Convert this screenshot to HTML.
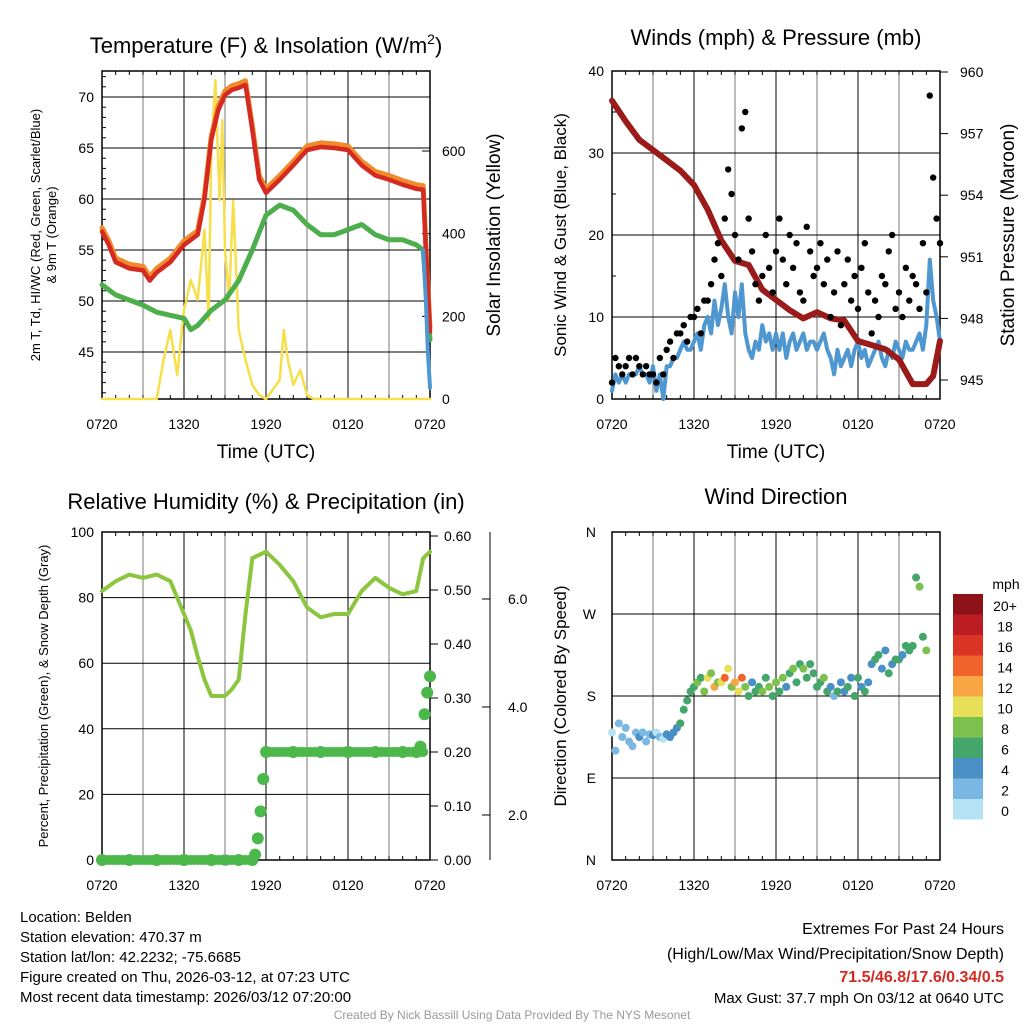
<!DOCTYPE html>
<html><head><meta charset="utf-8"><style>
body{margin:0;background:#fff;}
svg text{font-family:"Liberation Sans",sans-serif;fill:#000;}
</style></head><body>
<svg id="c" width="1024" height="1024" viewBox="0 0 1024 1024" xmlns="http://www.w3.org/2000/svg"></svg>
<script>
const xTickLabels=["0720","1320","1920","0120","0720"];
const tempT=[0,0.5,1,1.5,2,3,3.5,4,5,6,7,7.5,8,8.5,9,9.5,10,10.5,11,11.5,12,13,14,15,16,17,18,19,20,21,22,23,23.5,23.7,24];
const tempV=[56.8,55.5,53.8,53.5,53.2,53,52,52.8,53.8,55.5,56.5,60,65.8,68.7,70.2,70.7,70.9,71.2,66.8,61.9,60.6,61.9,63.3,64.8,65.1,65,64.8,63.3,62.3,61.9,61.4,61,60.9,55,47];
const dewT=[0,1,2,3,4,5,6,6.5,7,8,9,10,11,12,13,14,15,16,17,18,19,20,21,22,23,23.5,24];
const dewV=[51.6,50.6,50.1,49.6,48.9,48.6,48.3,47.2,47.6,49.1,50.1,52,55,58.4,59.4,58.9,57.5,56.5,56.5,57,57.5,56.5,56,56,55.5,55,46.2];
const wcT=[23.5,23.7,23.85,24];const wcV=[55,50,45,41.5];
const solT=[0,4,4.5,5,5.5,6,6.5,7,7.5,7.8,8,8.3,8.6,8.8,9,9.3,9.6,10,10.5,11,11.5,12,13,13.3,13.6,14,14.5,15,15.5,24];
const solV=[0,0,94,167,58,215,288,240,409,191,602,771,481,675,360,240,480,167,94,34,10,0,46,167,94,34,70,10,0,0];
const presT=[0,1,2,3,4,5,6,7,8,9,10,11,12,13,14,15,16,17,18,19,20,21,22,23,23.5,24];
const presV=[958.6,957.6,956.7,956.2,955.7,955.2,954.5,953.3,951.8,950.8,950.6,949.4,948.9,948.4,948,948.3,948,947.9,946.9,946.7,946.5,946,944.8,944.8,945.2,946.9];
const windSpd=[1,3,2,3,2,3,3,3,4,3,3,2,4,1,3,0,4,4,5,5,6,7,6,6,7,8,6,9,10,8,12,9,11,14,10,8,13,10,14,8,6,5,7,6,9,7,8,6,8,6,8,5,7,8,6,7,8,6,7,7,6,7,8,6,5,3,6,4,5,6,4,6,7,5,6,4,5,6,7,5,4,6,5,7,6,5,7,6,6,7,8,6,9,17,12,10,7];
const gustSpd=[2,5,4,3,4,5,3,5,4,3,4,3,3,2,5,3,6,7,5,8,8,9,7,10,10,11,8,12,12,14,17,19,15,22,28,25,20,17,33,35,22,18,14,12,15,20,16,13,18,22,17,14,20,16,19,13,12,21,18,15,16,19,14,17,10,13,18,9,14,17,12,15,11,16,19,13,8,12,10,15,14,18,20,11,13,10,16,12,15,14,11,19,13,37,27,22,19];
const windDir=[140,120,150,135,145,130,125,140,135,140,130,138,137,140,135,133,138,135,140,145,150,165,175,185,190,195,200,185,200,205,190,195,195,200,210,190,195,185,200,190,180,195,185,190,185,200,190,180,195,185,200,190,205,210,195,215,210,200,215,205,190,195,200,185,190,180,185,195,185,190,200,180,200,190,185,195,215,220,225,210,230,205,215,220,220,225,235,230,235,310,300,245,230];
const rhT=[0,1,2,3,4,5,6,6.5,7,7.5,8,9,9.5,10,10.5,11,12,13,14,15,16,17,18,19,20,21,22,23,23.5,24];
const rhV=[82,85,87,86,87,85,75,70,62,55,50,50,52,55,75,92,94,90,85,77,74,75,75,82,86,83,81,82,92,94];
const pcpT=[0,2,4,6,8,10,11,11.2,11.4,11.6,11.8,12,14,16,18,20,22,23,23.3,23.6,23.8,24];
const pcpV=[0,0,0,0,0,0,0,0.01,0.04,0.09,0.15,0.2,0.2,0.2,0.2,0.2,0.2,0.2,0.21,0.27,0.31,0.34];
const cbLabels=["20+","18","16","14","12","10","8","6","4","2","0"];
const cbColors=["#8e1318","#bb1d23","#dc3327","#f0632a","#f8a544","#e7df58","#7cc14e","#45a66c","#4a8fc6","#7ab8e3","#b6e2f6"];

const S=document.getElementById('c');const NS="http://www.w3.org/2000/svg";
function E(t,a,p){const e=document.createElementNS(NS,t);for(const k in a)e.setAttribute(k,a[k]);(p||S).appendChild(e);return e;}
function T(x,y,s,txt,anchor,size,extra){const e=E('text',Object.assign({x:x,y:y,'font-size':size||14,'text-anchor':anchor||'middle'},extra||{}));e.textContent=txt;


return e;}
const W=328;
function sx(x0,h){return x0+h*W/24;}
function lin(v,v0,v1,y0,y1){return y0+(v-v0)*(y1-y0)/(v1-v0);}
function frame(x0,y0,name,hgrid){
 const g=E('g',{});
 
 
 for(let i=1;i<8;i++){E('line',{x1:x0+i*41,x2:x0+i*41,y1:y0,y2:y0+W,stroke:i%2?'#777':'#000','stroke-width':1},g);}
 hgrid.forEach(y=>E('line',{x1:x0,x2:x0+W,y1:y,y2:y,stroke:'#000','stroke-width':1},g));
 E('rect',{x:x0,y:y0,width:W,height:W,fill:'none',stroke:'#000','stroke-width':1.5},g);
 for(let i=0;i<=24;i++){const x=x0+i*W/24;const L=i%6==0?8:4;E('line',{x1:x,x2:x,y1:y0+W,y2:y0+W-L,stroke:'#000'},g);E('line',{x1:x,x2:x,y1:y0,y2:y0+L,stroke:'#000'},g);}
 xTickLabels.forEach((l,i)=>T(x0+i*82,y0+W+30,'x-tick-label',l,'middle',14));
 return g;}
function path(ts,vs,fx,fy,col,w,name){let d='';ts.forEach((t,i)=>{d+=(i?'L':'M')+fx(t).toFixed(1)+','+fy(vs[i]).toFixed(1);});
 const p=E('path',{d:d,fill:'none',stroke:col,'stroke-width':w,'stroke-linejoin':'round','stroke-linecap':'round'});
 
 return p;}

// ---- Panel 1 temperature
{const x0=102,y0=71;const fy=v=>lin(v,45,70,352,97),fs=v=>lin(v,0,600,399,151),fx=h=>sx(x0,h);
 frame(x0,y0,'temperature-panel',[45,50,55,60,65,70].map(fy));
 [45,50,55,60,65,70].forEach(v=>{T(x0-8,fy(v)+5,'temp-tick-label',v,'end',14);});
 for(let v=41;v<=72;v++){E('line',{x1:x0,x2:x0+(v%5?4:8),y1:fy(v),y2:fy(v),stroke:'#000'});}
 [0,200,400,600].forEach(v=>{T(x0+W+12,fs(v)+5,'solar-tick-label',v,'start',14);E('line',{x1:x0+W,x2:x0+W-8,y1:fs(v),y2:fs(v),stroke:'#000'});});
 path(solT,solV,fx,fs,'#f7df4a',2.5,'solar-line');
 path(dewT,dewV,fx,fy,'#4cae4c',5,'dewpoint-line');
 path(tempT,tempV.map(v=>v+0.4),fx,fy,'#f08a2a',5,'temp-9m-line');
 path(tempT,tempV,fx,fy,'#d42a22',4.5,'temp-2m-line');
 path(wcT,wcV,fx,fy,'#4f97d1',4,'windchill-line');
 T(266,53,'temperature-title','Temperature (F) & Insolation (W/m','middle',22).innerHTML='Temperature (F) &amp; Insolation (W/m<tspan dy="-9" font-size="14">2</tspan><tspan dy="9">)</tspan>';
 T(266,458,'x-axis-title','Time (UTC)','middle',19);
 T(0,0,'temp-y-axis-title','2m T, Td, HI/WC (Red, Green, Scarlet/Blue)','middle',13,{transform:'translate(40,235) rotate(-90)'});
 T(0,0,'temp-y-axis-title-2','& 9m T (Orange)','middle',13,{transform:'translate(56,235) rotate(-90)'});
 T(0,0,'solar-y-axis-title','Solar Insolation (Yellow)','middle',19,{transform:'translate(500,235) rotate(-90)'});}

// ---- Panel 2 winds
{const x0=612,y0=71;const fy=v=>lin(v,0,40,399,71),fp=v=>lin(v,945,960,380,72),fx=h=>sx(x0,h);
 frame(x0,y0,'winds-panel',[0,10,20,30,40].map(fy));
 [0,10,20,30,40].forEach(v=>T(x0-8,fy(v)+5,'wind-tick-label',v,'end',14));
 for(let v=0;v<=40;v+=5)E('line',{x1:x0,x2:x0+(v%10?4:8),y1:fy(v),y2:fy(v),stroke:'#000'});
 [945,948,951,954,957,960].forEach(v=>{T(x0+W+20,fp(v)+5,'pressure-tick-label',v,'start',14);E('line',{x1:x0+W,x2:x0+W+8,y1:fp(v),y2:fp(v),stroke:'#000'});});
 const tt=windSpd.map((v,i)=>i*0.25);
 path(tt,windSpd,fx,fy,'#4f97d1',4,'wind-speed-line');
 path(presT,presV,fx,fp,'#9b1a1a',6,'pressure-line');
 gustSpd.forEach((v,i)=>{const c=E('circle',{cx:fx(i*0.25),cy:fy(v),r:3.2,fill:'#000'});
  
  });
 T(776,45,'winds-title','Winds (mph) & Pressure (mb)','middle',22);
 T(776,458,'x-axis-title','Time (UTC)','middle',19);
 T(0,0,'wind-y-axis-title','Sonic Wind & Gust (Blue, Black)','middle',17,{transform:'translate(566,235) rotate(-90)'});
 T(0,0,'pressure-y-axis-title','Station Pressure (Maroon)','middle',19,{transform:'translate(1014,235) rotate(-90)'});}

// ---- Panel 3 RH
{const x0=102,y0=532;const fy=v=>lin(v,0,100,860,532),fi=v=>lin(v,0,0.6,860,536),fx=h=>sx(x0,h);
 frame(x0,y0,'humidity-panel',[0,20,40,60,80,100].map(fy));
 [0,20,40,60,80,100].forEach(v=>T(x0-8,fy(v)+5,'rh-tick-label',v,'end',14));
 ['0.00','0.10','0.20','0.30','0.40','0.50','0.60'].forEach(v=>{T(x0+W+14,fi(+v)+5,'precip-tick-label',v,'start',14);E('line',{x1:x0+W,x2:x0+W+8,y1:fi(+v),y2:fi(+v),stroke:'#000'});});
 E('line',{x1:490,x2:490,y1:532,y2:860,stroke:'#000'});
 [['6.0',599],['4.0',707],['2.0',815]].forEach(a=>{T(508,a[1]+5,'snow-tick-label',a[0],'start',14);E('line',{x1:490,x2:482,y1:a[1],y2:a[1],stroke:'#000'});});
 path(rhT,rhV,fx,fy,'#8cc63f',4,'rh-line');
 E('circle',{cx:fx(9),cy:fi(0),r:6,fill:'#aaa'});
 pcpT.forEach((t,i)=>{const c=E('circle',{cx:fx(t),cy:fi(pcpV[i]),r:6,fill:'#4cb84c'});
  
  });
 for(let h=0;h<=11;h+=0.25)E('circle',{cx:fx(h),cy:fi(0),r:5,fill:'#4cb84c'});
 for(let h=12;h<=23.5;h+=0.25)E('circle',{cx:fx(h),cy:fi(0.2),r:5,fill:'#4cb84c'});
 T(266,509,'humidity-title','Relative Humidity (%) & Precipitation (in)','middle',22);
 T(0,0,'rh-y-axis-title','Percent, Precipitation (Green), & Snow Depth (Gray)','middle',13,{transform:'translate(48,696) rotate(-90)'});}

// ---- Panel 4 wind direction
{const x0=612,y0=532;const fy=v=>lin(v,0,360,860,532),fx=h=>sx(x0,h);
 frame(x0,y0,'wind-direction-panel',[0,90,180,270,360].map(fy));
 [['N',0],['E',90],['S',180],['W',270],['N',360]].forEach(a=>T(x0-16,fy(a[1])+5,'direction-tick-label',a[0],'end',14));
 function col(s){const b=Math.min(10,Math.floor(s/2));return cbColors[10-b];}
 windDir.forEach((d,i)=>{const c=E('circle',{cx:fx(i*0.25),cy:fy(d),r:4,fill:col(windSpd[i])});
  
  });
 T(776,504,'direction-title','Wind Direction','middle',22);
 T(0,0,'direction-y-axis-title','Direction (Colored By Speed)','middle',17,{transform:'translate(566,696) rotate(-90)'});
 const lg=E('g',{});
 
 
 T(1006,589,'colorbar-title','mph','middle',14);
 cbColors.forEach((c,i)=>{E('rect',{x:953,y:594+i*20.5,width:30,height:20.5,fill:c},lg);T(1005,611+i*20.5,'colorbar-label',cbLabels[i],'middle',14);});}

// ---- footer
const info=["Location: Belden","Station elevation: 470.37 m","Station lat/lon: 42.2232; -75.6685","Figure created on Thu, 2026-03-12, at 07:23 UTC","Most recent data timestamp: 2026/03/12 07:20:00"];
info.forEach((s,i)=>T(20,922+i*20,'station-info-line',s,'start',15));
T(1004,934,'extremes-title','Extremes For Past 24 Hours','end',16);
T(1004,959,'extremes-subtitle','(High/Low/Max Wind/Precipitation/Snow Depth)','end',16);
T(1004,982,'extremes-values','71.5/46.8/17.6/0.34/0.5','end',16,{'font-weight':'bold',style:'fill:#d42a22'});
T(1004,1003,'max-gust-text','Max Gust: 37.7 mph On 03/12 at 0640 UTC','end',15);
T(512,1019,'credit-text','Created By Nick Bassill Using Data Provided By The NYS Mesonet','middle',12,{style:'fill:#999'});
</script>
</body></html>
